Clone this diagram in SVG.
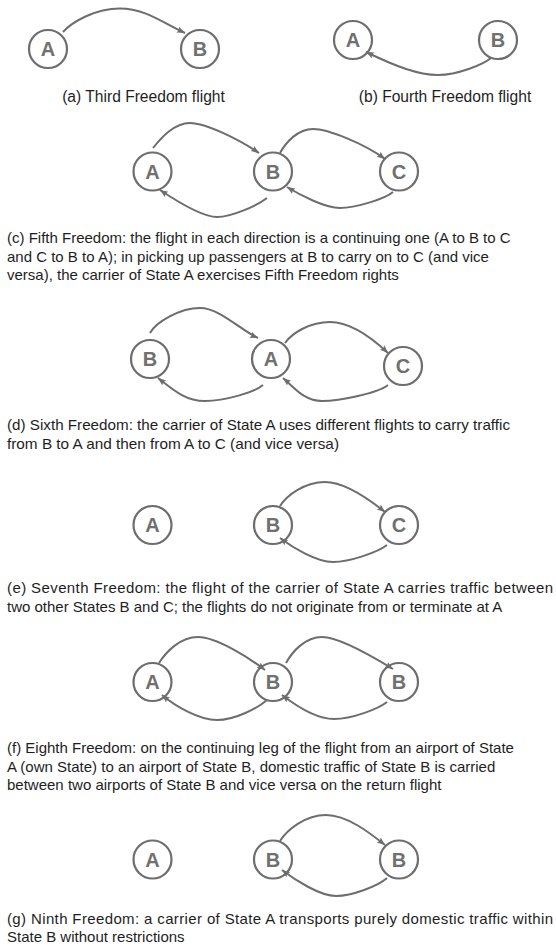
<svg xmlns="http://www.w3.org/2000/svg" width="556" height="947" viewBox="0 0 556 947">
  <defs>
    <style>
      .node circle { fill: #ffffff; stroke: #6d6d6d; stroke-width: 2.2; }
      .node text { font-family: "Liberation Sans", Arial, sans-serif; font-weight: bold; font-size: 20px; fill: #707070; text-anchor: middle; }
      .edges path { fill: none; stroke: #6d6d6d; stroke-width: 2; marker-end: url(#arrow); }
      .cap { font-family: "Liberation Sans", Arial, sans-serif; font-size: 15px; fill: #1e1e1e; }
      .capab { font-family: "Liberation Sans", Arial, sans-serif; font-size: 15.6px; fill: #1e1e1e; text-anchor: middle; }
    </style>
    <marker id="arrow" markerUnits="userSpaceOnUse" markerWidth="10" markerHeight="8" refX="8" refY="3.5" orient="auto" viewBox="0 0 10 8">
      <path d="M0,0.3 L8,3.5 L0,6.7 L1.5,3.5 z" fill="#6d6d6d"/>
    </marker>
  </defs>
  <rect width="556" height="947" fill="#ffffff"/>

  <!-- (a) Third Freedom -->
  <g id="a-A" class="node"><circle cx="48" cy="49" r="19"/><text x="48" y="56.2">A</text></g>
  <g id="a-B" class="node"><circle cx="200" cy="49" r="19"/><text x="200" y="56.2">B</text></g>
  <!-- (b) Fourth Freedom -->
  <g id="b-A" class="node"><circle cx="353" cy="40" r="19"/><text x="353" y="47.2">A</text></g>
  <g id="b-B" class="node"><circle cx="498" cy="40" r="19"/><text x="498" y="47.2">B</text></g>
  <!-- (c) Fifth Freedom -->
  <g id="c-A" class="node"><circle cx="152.5" cy="171.5" r="19"/><text x="152.5" y="178.7">A</text></g>
  <g id="c-B" class="node"><circle cx="273" cy="171.5" r="19"/><text x="273" y="178.7">B</text></g>
  <g id="c-C" class="node"><circle cx="399" cy="171.5" r="19"/><text x="399" y="178.7">C</text></g>
  <!-- (d) Sixth Freedom -->
  <g id="d-B" class="node"><circle cx="150" cy="359" r="19"/><text x="150" y="366.2">B</text></g>
  <g id="d-A" class="node"><circle cx="271" cy="359" r="19"/><text x="271" y="366.2">A</text></g>
  <g id="d-C" class="node"><circle cx="403" cy="366" r="19"/><text x="403" y="373.2">C</text></g>
  <!-- (e) Seventh Freedom -->
  <g id="e-A" class="node"><circle cx="152.5" cy="525" r="19"/><text x="152.5" y="532.2">A</text></g>
  <g id="e-B" class="node"><circle cx="273" cy="525" r="19"/><text x="273" y="532.2">B</text></g>
  <g id="e-C" class="node"><circle cx="399" cy="525" r="19"/><text x="399" y="532.2">C</text></g>
  <!-- (f) Eighth Freedom -->
  <g id="f-A" class="node"><circle cx="152.5" cy="682" r="19"/><text x="152.5" y="689.2">A</text></g>
  <g id="f-B1" class="node"><circle cx="273" cy="682" r="19"/><text x="273" y="689.2">B</text></g>
  <g id="f-B2" class="node"><circle cx="399" cy="682" r="19"/><text x="399" y="689.2">B</text></g>
  <!-- (g) Ninth Freedom -->
  <g id="g-A" class="node"><circle cx="152.5" cy="859.5" r="19"/><text x="152.5" y="866.7">A</text></g>
  <g id="g-B1" class="node"><circle cx="273" cy="859.5" r="19"/><text x="273" y="866.7">B</text></g>
  <g id="g-B2" class="node"><circle cx="399" cy="859.5" r="19"/><text x="399" y="866.7">B</text></g>

  <g id="connectors" class="edges">
    <!-- (a) -->
    <path d="M63,32 C72,22 95,8.5 120,8.5 S163,23 185,33"/>
    <!-- (b) -->
    <path d="M491,58 C484,64 458,75 438,75 S395,66 366,52"/>
    <!-- (c) -->
    <path d="M153,148 C161,138 174,123 190,123 S240,140 259,153"/>
    <path d="M280,153 C286,142 298,129 313,129 S365,144 385,159"/>
    <path d="M267,198 C258,205 232,217 217,217 S175,200 160,190"/>
    <path d="M393,192 C385,199 355,208 340,208 S300,195 287,187"/>
    <!-- (d) -->
    <path d="M150,333 C156,322 180,308 200,308 S240,330 258,338"/>
    <path d="M285,343 C292,333 310,322 330,322 S372,338 388,353"/>
    <path d="M263,385 C255,392 225,401 205,401 S172,389 158,378"/>
    <path d="M388,385 C378,393 340,401 322,401 S295,388 283,378"/>
    <!-- (e) -->
    <path d="M280,506 C287,495 305,482 325,482 S370,500 385,512"/>
    <path d="M387,545 C378,552 350,562 333,562 S292,547 280,538"/>
    <!-- (f) -->
    <path d="M159,663 C166,652 180,637 198,637 S248,657 265,670"/>
    <path d="M286,663 C292,652 305,637 322,637 S375,658 393,669"/>
    <path d="M267,700 C258,708 235,720 217,720 S175,706 162,695"/>
    <path d="M387,702 C378,709 352,719 334,719 S295,705 282,695"/>
    <!-- (g) -->
    <path d="M280,841 C287,830 305,815 326,815 S370,833 385,845"/>
    <path d="M387,878 C378,886 352,896 336,896 S295,880 282,870"/>
  </g>

  <g id="captions">
    <text class="capab" x="143.5" y="101.5">(a) Third Freedom flight</text>
    <text class="capab" x="445" y="101.5">(b) Fourth Freedom flight</text>
    <text class="cap" x="7" y="243">(c) Fifth Freedom: the flight in each direction is a continuing one (A to B to C</text>
    <text class="cap" x="7" y="261.5">and C to B to A); in picking up passengers at B to carry on to C (and vice</text>
    <text class="cap" x="7" y="280">versa), the carrier of State A exercises Fifth Freedom rights</text>
    <text class="cap" x="7" y="430" textLength="503" lengthAdjust="spacingAndGlyphs">(d) Sixth Freedom: the carrier of State A uses different flights to carry traffic</text>
    <text class="cap" x="7" y="448.5" textLength="332" lengthAdjust="spacingAndGlyphs">from B to A and then from A to C (and vice versa)</text>
    <text class="cap" x="7" y="593" textLength="546" lengthAdjust="spacing">(e) Seventh Freedom: the flight of the carrier of State A carries traffic between</text>
    <text class="cap" x="7" y="611.5">two other States B and C; the flights do not originate from or terminate at A</text>
    <text class="cap" x="7" y="753">(f) Eighth Freedom: on the continuing leg of the flight from an airport of State</text>
    <text class="cap" x="7" y="771.5">A (own State) to an airport of State B, domestic traffic of State B is carried</text>
    <text class="cap" x="7" y="790">between two airports of State B and vice versa on the return flight</text>
    <text class="cap" x="7" y="924" textLength="546" lengthAdjust="spacing">(g) Ninth Freedom: a carrier of State A transports purely domestic traffic within</text>
    <text class="cap" x="7" y="942">State B without restrictions</text>
  </g>
</svg>
